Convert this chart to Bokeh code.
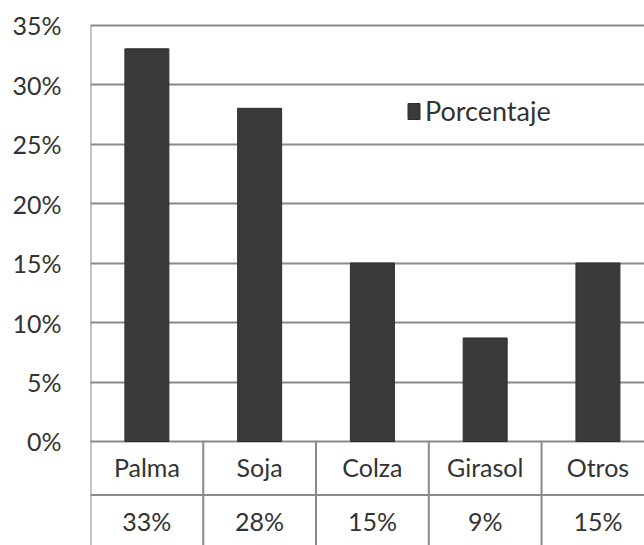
from bokeh.plotting import figure
from bokeh.models import Range1d, FixedTicker, Legend, LegendItem, ColumnDataSource
from bokeh.core.properties import value
from bokeh.embed import file_html
from bokeh.resources import INLINE

# ---- data ----
categories = ["Palma", "Soja", "Colza", "Girasol", "Otros"]
porcentaje = [33.0, 28.0, 15.0, 8.7, 15.0]
table_labels = ["33%", "28%", "15%", "9%", "15%"]
y_ticks = [0, 5, 10, 15, 20, 25, 30, 35]
series_name = "Porcentaje"

FONT = "Lato"
TXT = "#333333"
GRID = "#8a8a8a"

n = len(categories)
xpos = [i + 0.5 for i in range(n)]

p = figure(width=644, height=545, output_backend="svg", toolbar_location=None,
           x_range=Range1d(0, 4.913), y_range=Range1d(-8.74, 37.06),
           min_border_left=90, min_border_right=0, min_border_top=0, min_border_bottom=0)
p.outline_line_color = None
p.background_fill_color = "white"
p.border_fill_color = "white"

# axes
p.xaxis.visible = False
p.yaxis.ticker = FixedTicker(ticks=y_ticks)
p.yaxis.major_label_overrides = {t: f"{t}%" for t in y_ticks}
p.yaxis.axis_line_color = None
p.yaxis.major_tick_line_color = None
p.yaxis.minor_tick_line_color = None
p.yaxis.major_label_standoff = 23
p.yaxis.major_label_text_font = FONT
p.yaxis.major_label_text_font_size = "25px"
p.yaxis.major_label_text_color = TXT

p.xgrid.visible = False
p.ygrid.ticker = FixedTicker(ticks=y_ticks)
p.ygrid.grid_line_color = GRID
p.ygrid.grid_line_width = 2

# left border line of plot + table
p.segment(x0=[0], y0=[-8.74], x1=[0], y1=[max(y_ticks)], line_color=GRID, line_width=2)
# table vertical separators
p.segment(x0=list(range(1, n)), y0=[-8.74] * (n - 1), x1=list(range(1, n)), y1=[0] * (n - 1),
          line_color=GRID, line_width=2)
# table row separator
p.segment(x0=[0], y0=[-4.5], x1=[n], y1=[-4.5], line_color=GRID, line_width=2)

src = ColumnDataSource(dict(x=xpos, top=porcentaje, cat=categories, lab=table_labels,
                            y1=[-2.18] * n, y2=[-6.64] * n))
bars = p.vbar(x="x", top="top", bottom=0, width=0.39, source=src,
              fill_color="#3a3a3a", line_color="#2e2e2e", line_width=1)

p.text(x="x", y="y1", text="cat", source=src, text_font=value(FONT), text_font_size="25px",
       text_color=TXT, text_align="center", text_baseline="middle")
p.text(x="x", y="y2", text="lab", source=src, text_font=value(FONT), text_font_size="25px",
       text_color=TXT, text_align="center", text_baseline="middle")

legend = Legend(items=[LegendItem(label=series_name, renderers=[bars])],
                location=(316, 418), padding=0, margin=0, label_standoff=4,
                glyph_width=15, glyph_height=20, border_line_color=None,
                background_fill_alpha=0,
                label_text_font=FONT, label_text_font_size="27px", label_text_color=TXT)
p.add_layout(legend, "center")

open("out.html", "w").write(file_html(p, INLINE))
